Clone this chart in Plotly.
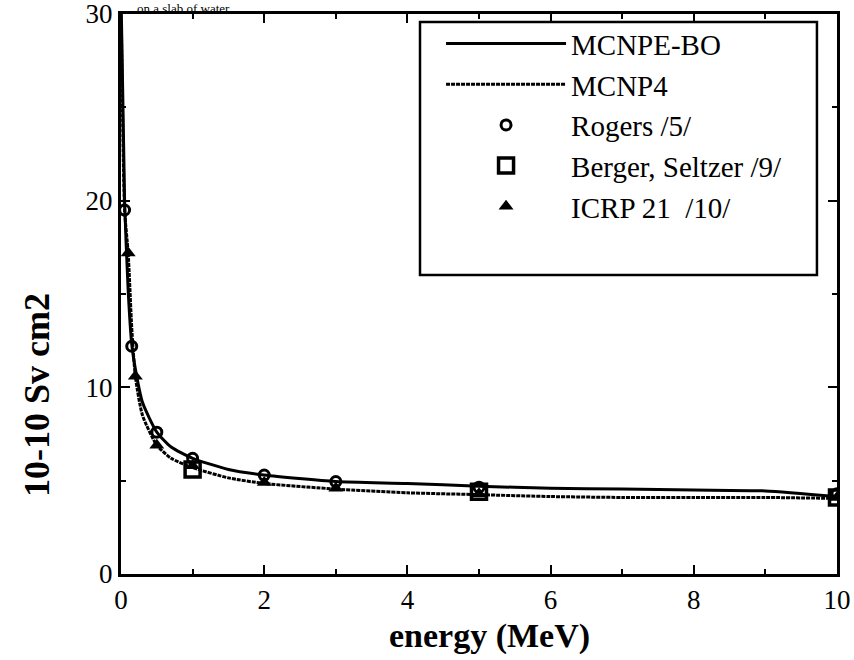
import plotly.graph_objects as go

# --- data ---
energy_curve = [0.005, 0.05, 0.1, 0.15, 0.2, 0.3, 0.5, 0.7, 1.0, 1.5, 2.0, 3.0, 4.0, 5.0, 6.0, 7.0, 8.0, 9.0, 10.0]
mcnpe_bo = [30.0, 20.0, 15.2, 12.3, 11.0, 9.2, 7.6, 6.8, 6.2, 5.6, 5.3, 4.95, 4.85, 4.7, 4.6, 4.55, 4.5, 4.45, 4.15]
mcnp4 = [29.5, 19.5, 17.2, 13.2, 10.6, 8.5, 6.9, 6.2, 5.7, 5.15, 4.85, 4.55, 4.35, 4.25, 4.15, 4.1, 4.1, 4.1, 4.05]

rogers_x = [0.05, 0.15, 0.5, 1.0, 2.0, 3.0, 5.0, 10.0]
rogers_y = [19.5, 12.2, 7.6, 6.2, 5.3, 4.95, 4.65, 4.3]
berger_x = [1.0, 5.0, 10.0]
berger_y = [5.6, 4.4, 4.1]
icrp_x = [0.1, 0.2, 0.5, 1.0, 2.0, 3.0, 5.0, 10.0]
icrp_y = [17.2, 10.6, 6.9, 5.8, 4.9, 4.6, 4.3, 4.1]

x_ticks = [0, 2, 4, 6, 8, 10]
x_tick_text = ["0", "2", "4", "6", "8", "10"]
y_ticks = [0, 10, 20, 30]

FONT = "Liberation Serif, Times New Roman, serif"

fig = go.Figure()
fig.add_trace(go.Scatter(x=energy_curve, y=mcnpe_bo, mode="lines", name="MCNPE-BO",
                         line=dict(color="black", width=3, shape="spline", smoothing=0.6),
                         legendgroup="a"))
fig.add_trace(go.Scatter(x=energy_curve, y=mcnp4, mode="lines", name="MCNP4",
                         line=dict(color="black", width=3, shape="spline", smoothing=0.6, dash="4px,1px"),
                         legendgroup="b"))
fig.add_trace(go.Scatter(x=rogers_x, y=rogers_y, mode="markers", name="Rogers /5/",
                         marker=dict(symbol="circle-open", size=10, color="black", line=dict(width=3)),
                         legendgroup="c"))
fig.add_trace(go.Scatter(x=berger_x, y=berger_y, mode="markers", name="Berger, Seltzer /9/",
                         marker=dict(symbol="square-open", size=15, color="black", line=dict(width=3.5)),
                         legendgroup="d"))
fig.add_trace(go.Scatter(x=icrp_x, y=icrp_y, mode="markers", name="ICRP 21  /10/",
                         marker=dict(symbol="triangle-up", size=13, color="black"),
                         legendgroup="e"))

# partially visible caption above the frame
fig.add_annotation(text="on a slab of water", xref="paper", yref="paper",
                   x=0.02, y=1.0, xanchor="left", yanchor="top", yshift=15,
                   showarrow=False, font=dict(family=FONT, size=13, color="black"))

# axis titles
fig.add_annotation(text="<b>energy (MeV)</b>", xref="paper", yref="paper",
                   x=0.515, y=-0.111, xanchor="center", yanchor="middle",
                   showarrow=False, font=dict(family=FONT, size=34, color="black"))
fig.add_annotation(text="<b>10-10 Sv cm2</b>", xref="paper", yref="paper",
                   x=-0.117, y=0.32, xanchor="center", yanchor="middle", textangle=-90,
                   showarrow=False, font=dict(family=FONT, size=36, color="black"))

# legend frame
fig.add_shape(type="rect", xref="paper", yref="paper",
              x0=0.4176, x1=0.972, y0=0.534, y1=0.9857,
              line=dict(color="black", width=2.5), fillcolor="rgba(0,0,0,0)", layer="above")

axis_common = dict(showline=True, linecolor="black", linewidth=3, mirror="allticks",
                   ticks="inside", tickcolor="black", tickwidth=2, ticklen=9,
                   showgrid=False, zeroline=False, ticklabeloverflow="allow", automargin=False,
                   tickfont=dict(family=FONT, size=27, color="black"))

fig.update_xaxes(range=[0, 10], tickvals=x_ticks, ticktext=x_tick_text,
                 minor=dict(dtick=1, tick0=0, ticks="inside", ticklen=5, tickwidth=2, tickcolor="black"),
                 **axis_common)
fig.update_yaxes(range=[0, 30], tickvals=y_ticks,
                 minor=dict(dtick=5, tick0=0, ticks="inside", ticklen=5, tickwidth=2, tickcolor="black"),
                 **axis_common)

fig.update_layout(
    width=854, height=660,
    margin=dict(l=121, r=17, t=14, b=86, autoexpand=False),
    paper_bgcolor="white", plot_bgcolor="white",
    font=dict(family=FONT, color="black"),
    legend=dict(x=0.447, y=0.9926, xanchor="left", yanchor="top",
                bgcolor="rgba(0,0,0,0)", borderwidth=0,
                font=dict(family=FONT, size=29, color="black"),
                traceorder="grouped", tracegroupgap=0, itemwidth=120),
)

fig.write_html("out.html")
